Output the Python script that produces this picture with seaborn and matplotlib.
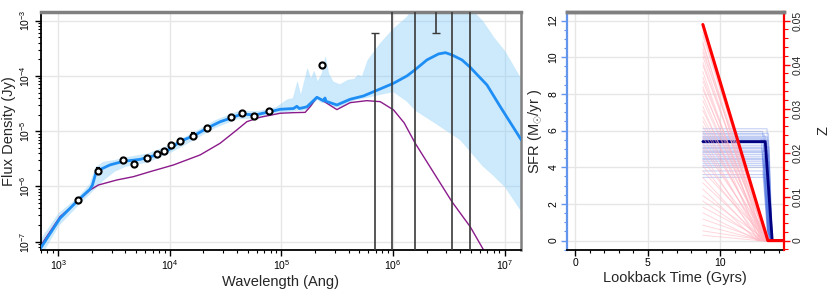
import numpy as np
import pandas as pd
import matplotlib
matplotlib.use('Agg')
import matplotlib.pyplot as plt
import seaborn as sns
from matplotlib.ticker import MultipleLocator

sns.set_theme(style='white')
plt.rcParams['font.family'] = ['Liberation Sans', 'DejaVu Sans']
plt.rcParams['mathtext.fontset'] = 'custom'
plt.rcParams['mathtext.rm'] = 'Liberation Sans'
plt.rcParams['mathtext.it'] = 'Liberation Sans:italic'

# ---- SED panel data (log10 wavelength [Ang], log10 flux [Jy]) ----
sed_loglam = [2.84, 3.015, 3.179, 3.284, 3.305, 3.335, 3.368, 3.464, 3.583, 3.733, 3.883, 3.972,
              4.03, 4.094, 4.211, 4.331, 4.45, 4.54, 4.645, 4.764, 4.899, 4.989, 5.108, 5.138,
              5.16, 5.228, 5.318, 5.377, 5.39, 5.40, 5.497, 5.616, 5.735, 5.885, 6.005, 6.125,
              6.196, 6.304, 6.408, 6.47, 6.528, 6.618, 6.686, 6.842, 6.961, 7.15]
sed_logf = [-7.12, -6.577, -6.245, -6.05, -5.98, -5.77, -5.70, -5.61, -5.545, -5.51, -5.43, -5.36,
            -5.28, -5.18, -5.087, -4.948, -4.83, -4.767, -4.69, -4.707, -4.647, -4.604, -4.59, -4.55,
            -4.59, -4.56, -4.387, -4.45, -4.40, -4.46, -4.526, -4.423, -4.363, -4.236, -4.133, -4.00,
            -3.892, -3.711, -3.603, -3.58, -3.621, -3.711, -3.833, -4.164, -4.556, -5.159]

stel_loglam = [2.836, 3.015, 3.179, 3.284, 3.359, 3.524, 3.673, 3.822, 4.031, 4.271, 4.45, 4.60,
               4.69, 4.809, 4.989, 5.108, 5.213, 5.26, 5.318, 5.407, 5.497, 5.616, 5.765, 5.885,
               6.005, 6.10, 6.199, 6.528, 6.692, 6.812, 6.95]
stel_logf = [-7.09, -6.548, -6.258, -6.064, -5.974, -5.883, -5.823, -5.733, -5.612, -5.43, -5.219,
             -4.978, -4.828, -4.748, -4.676, -4.665, -4.66, -4.55, -4.387, -4.495, -4.61, -4.484,
             -4.448, -4.466, -4.616, -4.85, -5.219, -6.276, -6.729, -7.15, -7.6]

band_loglam = [2.84, 3.0, 3.18, 3.28, 3.33, 3.40, 3.50, 3.60, 3.80, 4.00, 4.20, 4.40, 4.60, 4.80,
               4.95, 5.05, 5.10, 5.14, 5.17, 5.23, 5.26, 5.29, 5.32, 5.36, 5.39, 5.42, 5.46, 5.52,
               5.59, 5.65, 5.68, 5.72, 5.77, 5.88, 6.0, 6.12, 6.2, 6.4, 6.6, 6.8, 6.9, 7.0, 7.15]
band_lo = [-7.25, -6.70, -6.32, -6.12, -6.02, -5.88, -5.72, -5.63, -5.55, -5.38, -5.16, -4.93,
           -4.77, -4.75, -4.68, -4.64, -4.63, -4.61, -4.62, -4.60, -4.55, -4.47, -4.42, -4.48,
           -4.47, -4.50, -4.55, -4.56, -4.48, -4.43, -4.42, -4.40, -4.38, -4.33, -4.28, -4.45,
           -4.62, -4.88, -5.15, -5.62, -5.80, -6.0, -6.45]
band_hi = [-6.95, -6.48, -6.18, -5.95, -5.65, -5.55, -5.52, -5.47, -5.40, -5.24, -5.03, -4.80,
           -4.64, -4.63, -4.56, -4.42, -4.40, -4.10, -4.35, -3.86, -4.05, -3.91, -4.10, -3.95,
           -3.65, -3.95, -4.10, -4.15, -4.07, -4.05, -3.98, -4.00, -3.71, -3.41, -3.14, -2.93,
           -2.70, -2.50, -2.60, -3.00, -3.30, -3.55, -4.07]

obs_lam = [1510, 2285, 3830, 4775, 6210, 7670, 8810, 10190, 12420, 16250, 21430,
           35150, 44700, 56900, 78000, 232000]
obs_flux = [5.7e-7, 1.93e-6, 3.0e-6, 2.52e-6, 3.27e-6, 3.82e-6, 4.33e-6, 5.56e-6, 6.56e-6,
            8.3e-6, 1.13e-5, 1.79e-5, 2.16e-5, 1.86e-5, 2.32e-5, 1.58e-4]
obs_err = [6e-8, 2e-7, 3e-7, 2.5e-7, 3e-7, 3.5e-7, 4e-7, 5e-7, 6e-7, 8e-7, 1e-6,
           1.6e-6, 2e-6, 1.7e-6, 2e-6, 1.5e-5]

# far-IR points with huge errors (only the bars are in range)
ir_lam = [6.93e5, 9.8e5, 1.57e6, 2.43e6, 3.37e6, 4.85e6]
ir_lo = [1e-9, 1e-9, 1e-9, 5.9e-4, 1e-9, 1e-9]
ir_hi = [5.9e-4, 1e-1, 1e-1, 1e-1, 1e-1, 1e-1]
ir_mid = [1e-6, 1e-5, 1e-5, 3e-3, 1e-5, 1e-5]

# ---- SFH panel data ----
sfh_t = [8.79, 13.08, 13.56, 14.4]
sfh_sfr = [5.4, 5.4, 0.0, 0.0]
zh_t = [8.79, 13.26, 14.4]
zh_z = [0.0491, 0.0, 0.0]

t_start = 8.79
sfr_level = [6.1, 5.95, 5.85, 5.8, 5.7, 5.65, 5.6, 5.55, 5.5, 5.45, 5.35, 5.3, 5.2, 5.1, 5.05, 5.0,
             4.9, 4.85, 4.8, 4.7, 4.6, 4.5, 4.45, 4.4, 4.3, 4.2, 4.1, 4.0, 3.8, 3.6, 3.45]
sfr_tend = [13.2, 12.9, 13.3, 13.0, 13.1, 13.25, 12.8, 13.15, 13.05, 13.3, 12.95, 13.2, 13.1, 13.35,
            12.85, 13.0, 13.25, 13.15, 12.9, 13.3, 13.05, 13.2, 12.95, 13.1, 13.35, 13.0, 13.25,
            13.15, 12.9, 13.2, 13.05]
sfr_tzero = [13.45, 13.3, 13.5, 13.35, 13.4, 13.5, 13.25, 13.45, 13.4, 13.55, 13.3, 13.45, 13.4,
             13.55, 13.3, 13.35, 13.5, 13.45, 13.3, 13.55, 13.4, 13.45, 13.3, 13.4, 13.55, 13.35,
             13.5, 13.45, 13.3, 13.45, 13.4]
z_start = [0.0488, 0.0480, 0.0473, 0.0465, 0.0452, 0.0447, 0.0436, 0.0428, 0.0419, 0.0405, 0.0398,
           0.0384, 0.0371, 0.0362, 0.0350, 0.0343, 0.0329, 0.0318, 0.0305, 0.0296, 0.0281, 0.0272,
           0.0260, 0.0247, 0.0236, 0.0221, 0.0210, 0.0198, 0.0183, 0.0170, 0.0158, 0.0143, 0.0131,
           0.0117, 0.0102, 0.0090, 0.0076, 0.0063, 0.0049, 0.0035, 0.0022, 0.0012]
z_tend = [13.1, 13.3, 13.2, 13.35, 12.9, 13.25, 13.15, 13.4, 13.0, 13.2, 13.3, 12.8, 13.1, 13.25,
          12.95, 13.35, 13.05, 13.2, 12.7, 13.15, 13.3, 12.9, 13.1, 13.25, 12.8, 13.0, 13.2, 12.6,
          13.1, 12.9, 13.3, 12.75, 13.0, 12.5, 13.2, 12.8, 13.1, 12.6, 13.0, 12.9, 13.2, 12.7]

fig = plt.figure(figsize=(8.3, 2.91), dpi=100)
ax = fig.add_axes([0.049, 0.141, 0.579, 0.818])
axs = fig.add_axes([0.6828, 0.141, 0.2618, 0.818])

# ---------------- SED ----------------
ax.set_xscale('log')
ax.set_yscale('log')
ax.fill_between(10 ** np.array(band_loglam), 10 ** np.array(band_lo), 10 ** np.array(band_hi),
                color='#87cefa', alpha=0.42, lw=0.6, edgecolor='#b5e0fb', zorder=1)
sns.lineplot(x=10 ** np.array(stel_loglam), y=10 ** np.array(stel_logf), ax=ax,
             color='#8b1a8b', lw=1.0, sort=False, estimator=None, zorder=2)
sns.lineplot(x=10 ** np.array(sed_loglam), y=10 ** np.array(sed_logf), ax=ax,
             color='#1e8ef5', lw=2.0, sort=False, estimator=None, zorder=3)
ax.errorbar(obs_lam, obs_flux, yerr=obs_err, fmt='o', ms=4.4, mfc='white', mec='black', mew=1.5,
            ecolor='black', elinewidth=1, capsize=1.5, zorder=5)
ir_mid_a = np.array(ir_mid)
ax.errorbar(ir_lam, ir_mid, yerr=[ir_mid_a - np.array(ir_lo), np.array(ir_hi) - ir_mid_a],
            fmt='none', ecolor='#3a3a3a', elinewidth=1.2, capsize=3, zorder=4)

ax.set_xlim(695, 1.41e7)
ax.set_ylim(7.1e-8, 1.435e-3)
ax.grid(True, which='major', color='#e6e6e6', lw=1)
ax.set_xlabel('Wavelength (Ang)', fontsize=10.5, labelpad=2)
ax.set_ylabel('Flux Density (Jy)', fontsize=10.5)
ax.yaxis.set_label_coords(-0.052, 0.5)

# ---------------- SFH ----------------
axz = axs.twinx()
sfr_rows = []
for i in range(len(sfr_level)):
    sfr_rows += [(i, t_start, sfr_level[i]), (i, sfr_tend[i], sfr_level[i]), (i, sfr_tzero[i], 0.0)]
sfr_df = pd.DataFrame(sfr_rows, columns=['id', 't', 'sfr'])
z_rows = []
for i in range(len(z_start)):
    z_rows += [(i, t_start, z_start[i]), (i, z_tend[i], 0.0), (i, 14.4, 0.0)]
z_df = pd.DataFrame(z_rows, columns=['id', 't', 'z'])

sns.lineplot(data=sfr_df, x='t', y='sfr', units='id', estimator=None, sort=False, ax=axs,
             color='#4169e1', alpha=0.3, lw=0.8)
sns.lineplot(x=sfh_t, y=sfh_sfr, ax=axs, color='#000080', lw=2.0, sort=False, estimator=None)
sns.lineplot(data=z_df, x='t', y='z', units='id', estimator=None, sort=False, ax=axz,
             color='#ffb6c1', alpha=0.55, lw=0.7)
sns.lineplot(x=zh_t, y=zh_z, ax=axz, color='red', lw=2.2, sort=False, estimator=None)

axs.set_xlim(-0.57, 14.37)
axs.set_ylim(-0.51, 12.47)
axz.set_ylim(-0.51 * 0.05 / 12, 12.47 * 0.05 / 12)
axs.xaxis.set_major_locator(MultipleLocator(5))
axs.xaxis.set_minor_locator(MultipleLocator(1))
axs.yaxis.set_major_locator(MultipleLocator(2))
axs.yaxis.set_minor_locator(MultipleLocator(0.5))
axz.yaxis.set_major_locator(MultipleLocator(0.01))
axz.yaxis.set_minor_locator(MultipleLocator(0.002))
axz.yaxis.set_major_formatter(matplotlib.ticker.FuncFormatter(lambda v, p: '0' if abs(v) < 1e-9 else '%g' % v))
axs.grid(True, which='major', color='#e6e6e6', lw=1)
axs.set_xlabel('Lookback Time (Gyrs)', fontsize=10.5, labelpad=2)
axs.set_ylabel(r'SFR (M$_{\odot}$/yr )', fontsize=10.5, labelpad=3)
axz.set_ylabel('Z', fontsize=10.5, labelpad=10)

# ---------------- styling ----------------
for a in (ax, axs):
    a.tick_params(which='both', direction='out', bottom=True, left=True, labelsize=7.5,
                  colors='black', pad=2)
    a.tick_params(which='major', length=4, width=1)
    a.tick_params(which='minor', length=2.5, width=0.8)
    a.tick_params(axis='y', labelrotation=90)
    a.spines['top'].set_color('#808080')
    a.spines['top'].set_linewidth(2.5)
    a.spines['bottom'].set_color('black')
    a.spines['bottom'].set_linewidth(1.3)
for lab in ax.get_yticklabels() + axs.get_yticklabels():
    lab.set_va('center')
ax.spines['left'].set_color('black')
ax.spines['left'].set_linewidth(1.3)
ax.spines['right'].set_color('#808080')
ax.spines['right'].set_linewidth(1.8)

axs.spines['left'].set_color('#6495ed')
axs.spines['left'].set_linewidth(1.6)
axs.spines['right'].set_visible(False)
axs.tick_params(axis='y', which='both', color='#6495ed')
axz.spines['left'].set_visible(False)
axz.spines['bottom'].set_visible(False)
axz.spines['top'].set_color('#808080')
axz.spines['top'].set_linewidth(2.5)
axz.spines['right'].set_color('red')
axz.spines['right'].set_linewidth(1.6)
axz.tick_params(axis='y', which='both', direction='out', right=True, color='red', labelsize=7.5,
                labelrotation=90, pad=2)
axz.tick_params(which='major', length=4, width=1)
axz.tick_params(which='minor', length=3, width=0.8)
for lab in axz.get_yticklabels():
    lab.set_va('center')

fig.savefig('out.png', dpi=100)
